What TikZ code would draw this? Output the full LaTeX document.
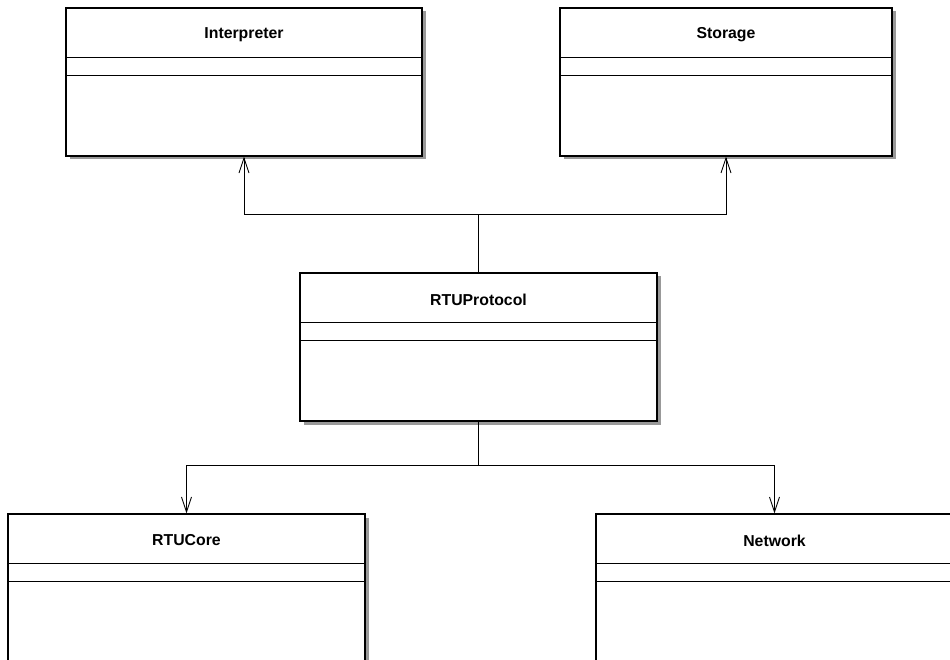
\documentclass[tikz,border=0pt]{standalone}
\usepackage{fontspec}
\setmainfont{Liberation Sans}
\usetikzlibrary{arrows.meta,shadows}

\begin{document}
\begin{tikzpicture}[
		umlclass/.style={draw, line width=0.7pt, fill=white, minimum height=2.96cm,
			drop shadow={shadow xshift=0.07cm, shadow yshift=-0.07cm, fill=black!40, opacity=1}},
		classname/.style={font=\fontsize{9}{11}\selectfont\bfseries, inner sep=0pt},
		assoc/.style={line width=0.5pt, -{Straight Barb[length=0.3cm, width=0.2cm]}}
	]
				
				\useasboundingbox (0,0) rectangle (19,-13.2);
				\clip (0,0) rectangle (19,-13.2);
				
				\node[umlclass, minimum width=7.12cm] (Interpreter) at (4.88,-1.64) {};
				\node[umlclass, minimum width=6.64cm] (Storage) at (14.52,-1.64) {};
				\node[umlclass, minimum width=7.14cm] (RTUProtocol) at (9.57,-6.94) {};
				\node[umlclass, minimum width=7.14cm] (RTUCore) at (3.73,-11.76) {};
				\node[umlclass, minimum width=7.14cm] (Network) at (15.49,-11.76) {};
				
				\node[classname] (InterpreterName) at ([yshift=-0.54cm]Interpreter.north) {Interpreter};
				\node[classname] (StorageName) at ([yshift=-0.54cm]Storage.north) {Storage};
				\node[classname] (RTUProtocolName) at ([yshift=-0.54cm]RTUProtocol.north) {RTUProtocol};
				\node[classname] (RTUCoreName) at ([yshift=-0.54cm]RTUCore.north) {RTUCore};
				\node[classname] (NetworkName) at ([yshift=-0.54cm]Network.north) {Network};
				
				\foreach \cls in {Interpreter, Storage, RTUProtocol, RTUCore, Network}{
					\draw[line width=0.7pt] ([yshift=-1cm]\cls.north west) -- ([yshift=-1cm]\cls.north east);
					\draw[line width=0.7pt] ([yshift=-1.36cm]\cls.north west) -- ([yshift=-1.36cm]\cls.north east);
				}
				
				\coordinate (upjoin) at (9.57,-4.28);
				\coordinate (downjoin) at (9.57,-9.30);
				
				\draw[assoc] (RTUProtocol.north) |- (Interpreter.south |- upjoin) -- (Interpreter.south);
				\draw[assoc] (RTUProtocol.north) |- (Storage.south |- upjoin) -- (Storage.south);
				\draw[assoc] (RTUProtocol.south) |- (RTUCore.north |- downjoin) -- (RTUCore.north);
				\draw[assoc] (RTUProtocol.south) |- (Network.north |- downjoin) -- (Network.north);
				
			\end{tikzpicture}
\end{document}
